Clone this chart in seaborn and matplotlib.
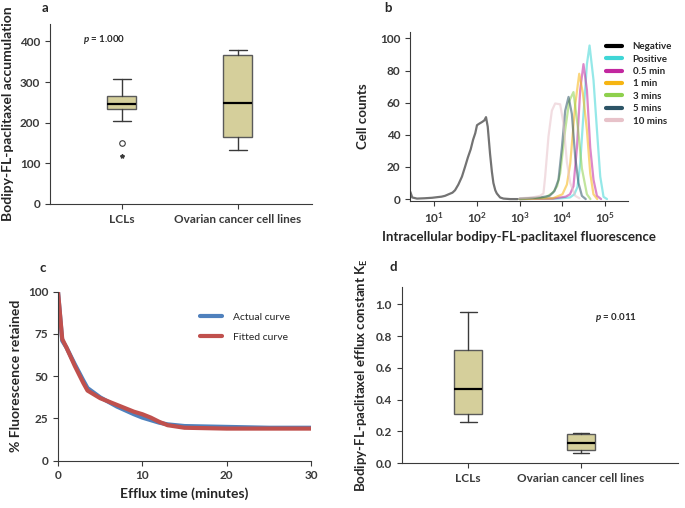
import numpy as np
import pandas as pd
import matplotlib
matplotlib.use("Agg")
import matplotlib.pyplot as plt
from matplotlib.ticker import NullLocator
import seaborn as sns

# ---- panel a: bodipy-FL-paclitaxel accumulation (box summaries)
groups = ["LCLs", "Ovarian cancer cell lines"]
acc_whislo = [204, 132]
acc_q1 = [233, 164]
acc_med = [246, 249]
acc_q3 = [265, 367]
acc_whishi = [308, 378]
acc_outliers = [[151], []]   # drawn as open circles
acc_extremes = [[118], []]   # drawn as stars

# ---- panel b: flow cytometry histograms
samples = ["Negative", "Positive", "0.5 min", "1 min", "3 mins", "5 mins", "10 mins"]
colors = ["#000000", "#3fd6d6", "#c2279f", "#f6b512", "#8ed04d", "#2c5466", "#e7c2c9"]

neg_x = [2.8, 3.1, 4, 6, 9, 12, 15, 18, 22, 27, 31, 37, 45, 53, 62, 72, 82, 92, 101,
         115, 133, 150, 164, 180, 204, 225, 244, 270, 293, 350, 420, 600, 900]
neg_y = [4.5, 1, 0.3, 0.5, 0.8, 1.2, 1.5, 2, 3, 4, 5.5, 9, 14, 20, 26, 31, 37, 41, 46,
         47, 48, 49, 51, 45, 28, 17, 10, 5.5, 3.5, 1, 0.3, 0, 0]
pos_x = [1000, 8000, 15000, 19000, 22500, 26000, 31000, 37300, 43000, 53200, 64000, 76400, 91200, 110000]
pos_y = [0, 0.3, 1, 3, 7.6, 22, 53, 84, 95.6, 74, 43, 14, 1.4, 0]
m05_x = [1000, 6000, 12000, 15000, 18100, 21800, 26000, 31000, 37300, 44600, 53200, 64000, 80000]
m05_y = [0, 0.3, 1.5, 3, 8, 32, 68, 84, 68, 32, 12, 2, 0]
m1_x = [1000, 6000, 10000, 12700, 15200, 19900, 24700, 30000, 37300, 44600, 53000, 65000]
m1_y = [0, 0.5, 3, 9, 22, 59, 78, 66, 43, 16, 3, 0]
m3_x = [1000, 4000, 6000, 7500, 8850, 11600, 14400, 18100, 23300, 28500, 37300, 45000]
m3_y = [0, 1, 4, 8, 16, 43, 61, 66.6, 43, 19, 3, 0]
m5_x = [1000, 3000, 5000, 6500, 8090, 9710, 11600, 13900, 16600, 19900, 23700, 28500, 35000]
m5_y = [0.3, 1, 2, 5, 12, 32, 55, 63.6, 53, 26, 10, 2, 0]
m10_x = [1000, 2000, 3000, 3600, 3950, 4720, 5660, 6760, 8850, 10590, 12700, 15200, 19900, 25000]
m10_y = [0.5, 1, 2, 3.5, 14, 39, 55, 59.5, 59, 47, 23, 10, 2, 0.5]
hist_x = [neg_x, pos_x, m05_x, m1_x, m3_x, m5_x, m10_x]
hist_y = [neg_y, pos_y, m05_y, m1_y, m3_y, m5_y, m10_y]

# ---- panel c: efflux curves
eff_time = [0, 0.5, 1, 2, 3, 3.5, 5, 7, 9, 10, 11, 12, 13, 15, 20, 25, 30]
actual_curve = [100, 71, 67, 57, 47.5, 43, 37.5, 32, 27.5, 25.5, 24, 22.5, 21.5, 20.5, 20, 19.5, 19.5]
fitted_curve = [100, 72, 67, 56, 46, 41.5, 37, 33, 29, 27.5, 25.5, 23, 21, 19.5, 19, 19, 19]

# ---- panel d: efflux constant KE
ke_whislo = [0.26, 0.063]
ke_q1 = [0.31, 0.082]
ke_med = [0.47, 0.126]
ke_q3 = [0.71, 0.182]
ke_whishi = [0.95, 0.192]

sns.set_style("ticks", {"axes.edgecolor": "#3a3a3a", "xtick.color": "#3a3a3a",
                        "ytick.color": "#3a3a3a"})
plt.rcParams["font.family"] = ["Lato", "DejaVu Sans"]
plt.rcParams["font.weight"] = "bold"
plt.rcParams["axes.labelweight"] = "bold"
plt.rcParams["mathtext.fontset"] = "custom"
plt.rcParams["mathtext.rm"] = "Lato:bold"
plt.rcParams["mathtext.it"] = "Lato:italic:bold"
plt.rcParams["mathtext.bf"] = "Lato:bold"
plt.rcParams["xtick.labelsize"] = 8.5
plt.rcParams["ytick.labelsize"] = 8.5

W, H = 685, 508
fig = plt.figure(figsize=(W / 100, H / 100), dpi=100)


def px_axes(l, t, r, b):
    return fig.add_axes([l / W, 1 - b / H, (r - l) / W, (b - t) / H])


box_face = "#d5cf9b"
box_edge = "#5a5a5a"


def draw_boxes(ax, lo, q1, med, q3, hi, fliers):
    stats = []
    for i, g in enumerate(groups):
        stats.append(dict(label=g, whislo=lo[i], q1=q1[i], med=med[i],
                          q3=q3[i], whishi=hi[i], fliers=fliers[i]))
    ax.bxp(stats, positions=[0, 1], widths=0.25, capwidths=0.15, patch_artist=True,
           boxprops=dict(facecolor=box_face, edgecolor=box_edge, linewidth=1),
           medianprops=dict(color="black", linewidth=1.6),
           whiskerprops=dict(color="#3a3a3a", linewidth=1),
           capprops=dict(color="#3a3a3a", linewidth=1),
           flierprops=dict(marker="o", markersize=4, markerfacecolor="none",
                           markeredgecolor="#3a3a3a", markeredgewidth=0.8))
    ax.set_xticks([0, 1])
    ax.set_xticklabels(groups)


# ---------------- a
ax_a = px_axes(50, 24, 312, 204)
draw_boxes(ax_a, acc_whislo, acc_q1, acc_med, acc_q3, acc_whishi, acc_outliers)
for i, ext in enumerate(acc_extremes):
    if ext:
        ax_a.plot([i] * len(ext), ext, ls="none", marker="*", ms=3, color="#3a3a3a")
ax_a.set_xlim(-0.62, 1.64)
ax_a.set_ylim(0, 443)
ax_a.set_yticks([0, 100, 200, 300, 400])
ax_a.set_ylabel("Bodipy-FL-paclitaxel accumulation", fontsize=10)
ax_a.text(0.125, 0.9, r"$\mathit{p}$ = 1.000", transform=ax_a.transAxes, fontsize=7)
sns.despine(ax=ax_a)

# ---------------- b
ax_b = px_axes(410, 32, 628, 201)
rows = []
for s, xs, ys in zip(samples, hist_x, hist_y):
    for x, y in zip(xs, ys):
        rows.append((s, x, y))
df_b = pd.DataFrame(rows, columns=["sample", "fluor", "count"])
sns.lineplot(data=df_b, x="fluor", y="count", hue="sample", hue_order=samples,
             palette=colors, estimator=None, sort=False, linewidth=1.6, alpha=0.55, ax=ax_b)
ax_b.set_xscale("log")
ax_b.set_xlim(2.75, 3.4e5)
ax_b.set_ylim(-1.2, 104)
ax_b.set_xticks([10, 100, 1e3, 1e4, 1e5])
ax_b.set_xticklabels([r"$10^{1}$", r"$10^{2}$", r"$10^{3}$", r"$10^{4}$", r"$10^{5}$"])
ax_b.xaxis.set_minor_locator(NullLocator())
ax_b.set_yticks([0, 20, 40, 60, 80, 100])
ax_b.set_xlabel("Intracellular bodipy-FL-paclitaxel fluorescence", fontsize=9.5)
ax_b.set_ylabel("Cell counts", fontsize=9.5, labelpad=8)
handles, labels = ax_b.get_legend_handles_labels()
for h in handles:
    h.set_linewidth(3)
    h.set_alpha(1)
ax_b.legend(handles, labels, loc="upper left", bbox_to_anchor=(0.898, 0.94),
            frameon=False, fontsize=7, borderpad=0, handlelength=1.65,
            handletextpad=1.1, labelspacing=0.35, borderaxespad=0)
sns.despine(ax=ax_b)

# ---------------- c
ax_c = px_axes(58, 291.7, 311, 460.7)
df_c = pd.DataFrame({
    "time": eff_time * 2,
    "retained": actual_curve + fitted_curve,
    "curve": ["Actual curve"] * len(eff_time) + ["Fitted curve"] * len(eff_time),
})
sns.lineplot(data=df_c, x="time", y="retained", hue="curve",
             palette=["#4f81bd", "#c0504d"], linewidth=3, ax=ax_c)
ax_c.set_xlim(0, 30)
ax_c.set_ylim(0, 100)
ax_c.set_xticks([0, 10, 20, 30])
ax_c.set_yticks([0, 25, 50, 75, 100])
ax_c.set_xlabel("Efflux time (minutes)", fontsize=10)
ax_c.set_ylabel("% Fluorescence retained", fontsize=10)
ax_c.legend(loc="upper left", bbox_to_anchor=(0.561, 0.875), frameon=False,
            prop=dict(weight="normal", size=7.5), borderpad=0,
            handlelength=2.1, handletextpad=1.05, labelspacing=1.0, borderaxespad=0)
sns.despine(ax=ax_c)

# ---------------- d
ax_d = px_axes(401.7, 286.7, 678, 463.3)
draw_boxes(ax_d, ke_whislo, ke_q1, ke_med, ke_q3, ke_whishi, [[], []])
ax_d.set_xlim(-0.59, 1.86)
ax_d.set_ylim(0, 1.11)
ax_d.set_yticks([0, 0.2, 0.4, 0.6, 0.8, 1.0])
ax_d.set_yticklabels(["0.0", "0.2", "0.4", "0.6", "0.8", "1.0"])
ax_d.set_ylabel(r"Bodipy-FL-paclitaxel efflux constant K$_{\mathbf{E}}$", fontsize=9.5)
ax_d.text(0.7, 0.81, r"$\mathit{p}$ = 0.011", transform=ax_d.transAxes, fontsize=7)
sns.despine(ax=ax_d)

# panel letters
for lbl, x, y in [("a", 42, 8), ("b", 384, 8), ("c", 40, 268), ("d", 389, 267)]:
    fig.text(x / W, 1 - y / H, lbl, fontsize=9.5, weight="bold", va="center")

fig.savefig("out.png", dpi=100)
